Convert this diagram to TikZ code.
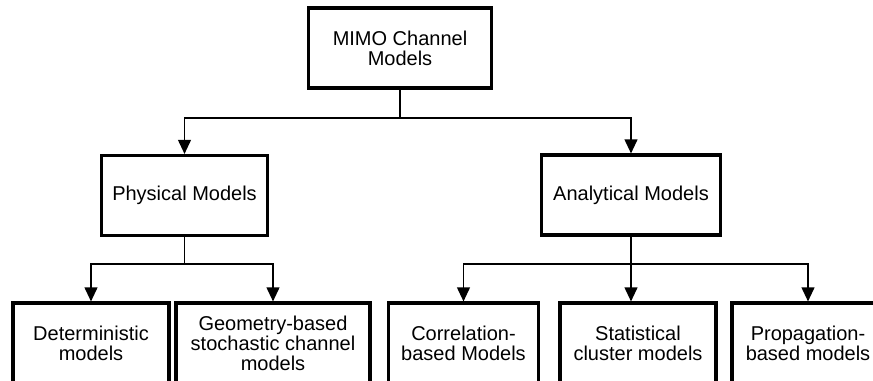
\documentclass[tikz,border=0pt]{standalone}
\usepackage{fontspec}
\setmainfont{Liberation Sans}
\usetikzlibrary{arrows.meta}

\tikzset{
	box/.style={draw, line width=2.3pt, align=center, inner sep=0pt,
		minimum height=60pt, font=\fontsize{15}{15}\selectfont},
	link/.style={line width=1.1pt},
	arr/.style={line width=1.4pt, -{Triangle[length=10.5pt, width=9.5pt]}}
}

\begin{document}
\begin{tikzpicture}[x=0.75pt, y=-0.75pt]
		\useasboundingbox (0,0) rectangle (873,380);
		\clip (0,0) rectangle (873,380);
		% root and first level
		\node[box, minimum width=137pt] (mimo) at (400,48) {MIMO Channel\\Models};
		\node[box, minimum width=124pt] (phys) at (184.5,195.5) {Physical Models};
		\node[box, minimum width=134pt] (anal) at (631,195) {Analytical Models};
		% second level
		\node[box, minimum width=117pt] (det) at (91,343) {Deterministic\\models};
		\node[box, minimum width=145.5pt] (geo) at (273,343) {Geometry-based\\stochastic channel\\models};
		\node[box, minimum width=113pt] (corr) at (463.5,343) {Correlation-\\based Models};
		\node[box, minimum width=117pt] (stat) at (638,343) {Statistical\\cluster models};
		\node[box, minimum width=114pt] (prop) at (808,343) {Propagation-\\based models};
		% junctions
		\coordinate (top) at (400,118);
		\coordinate (pj) at (184.5,264);
		\coordinate (aj) at (631,264);
		% links from the root
		\draw[link] (mimo) -- (top);
		\draw[arr] (top) -| (phys);
		\draw[arr] (top) -| (anal);
		% physical branch
		\draw[link] (phys) -- (pj);
		\draw[arr] (pj) -| (det);
		\draw[arr] (pj) -| (geo);
		% analytical branch
		\draw[link] (anal) -- (aj);
		\draw[arr] (aj) -| (corr);
		\draw[arr] (aj) -- (aj |- stat.north);
		\draw[arr] (aj) -| (prop);
	\end{tikzpicture}
\end{document}
